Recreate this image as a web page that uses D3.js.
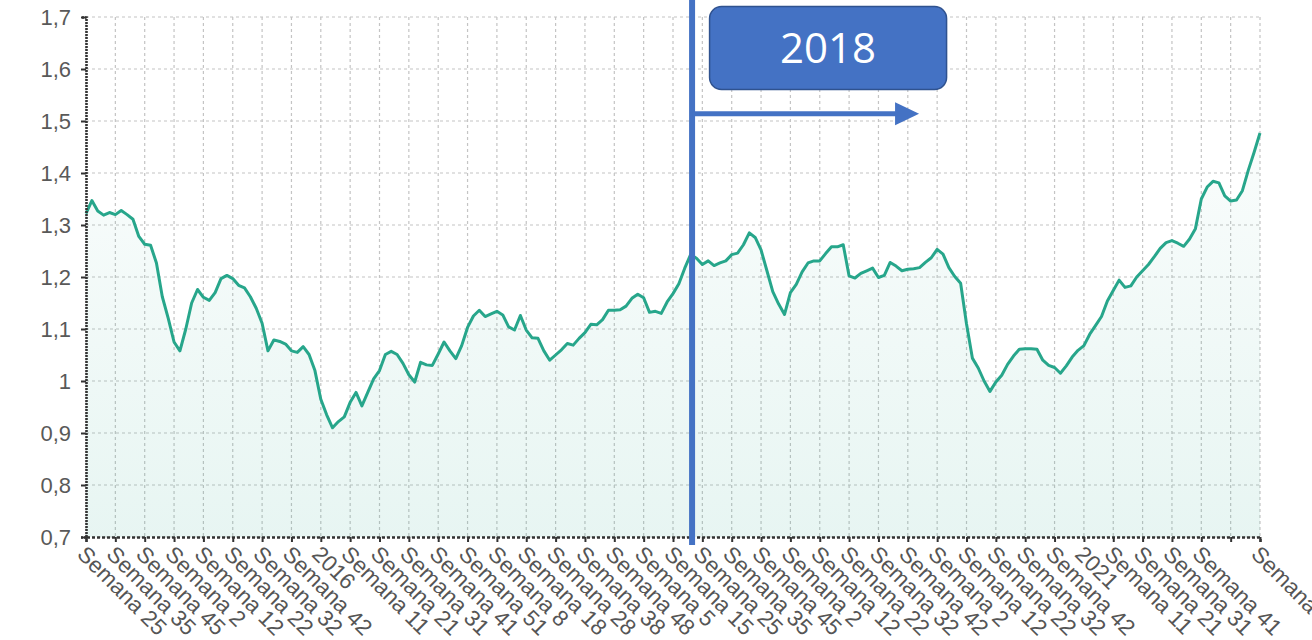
<!DOCTYPE html>
<html>
<head>
<meta charset="utf-8">
<script src="https://cdn.jsdelivr.net/npm/d3@7"></script>
<style>
	body { margin: 0; background: #fff; overflow: hidden; }
	svg { display: block; }
</style>
</head>
<body>
<svg id="chart" width="1312" height="640"></svg>
<script>
// one value every 2 weeks
var weekStep = 2;
var values = [
	1.322, 1.347, 1.327, 1.319, 1.324, 1.320, 1.328, 1.320, 1.311, 1.278,
	1.263, 1.261, 1.227, 1.162, 1.121, 1.075, 1.058, 1.100, 1.150, 1.176,
	1.161, 1.155, 1.170, 1.197, 1.203, 1.197, 1.184, 1.179, 1.162, 1.140,
	1.111, 1.058, 1.079, 1.076, 1.071, 1.058, 1.055, 1.066, 1.051, 1.020,
	0.965, 0.935, 0.910, 0.922, 0.931, 0.959, 0.978, 0.952, 0.978, 1.004,
	1.020, 1.051, 1.057, 1.051, 1.034, 1.012, 0.998, 1.036, 1.031, 1.030,
	1.052, 1.075, 1.058, 1.043, 1.068, 1.103, 1.125, 1.136, 1.124, 1.129,
	1.134, 1.127, 1.104, 1.098, 1.126, 1.098, 1.083, 1.082, 1.058, 1.040,
	1.050, 1.060, 1.072, 1.069, 1.082, 1.093, 1.109, 1.108, 1.118, 1.136,
	1.136, 1.137, 1.144, 1.159, 1.167, 1.160, 1.132, 1.134, 1.130, 1.152,
	1.168, 1.187, 1.217, 1.243, 1.236, 1.224, 1.231, 1.222, 1.227, 1.231,
	1.243, 1.246, 1.262, 1.285, 1.276, 1.252, 1.212, 1.172, 1.148, 1.128,
	1.170, 1.186, 1.210, 1.227, 1.231, 1.231, 1.245, 1.258, 1.258, 1.262,
	1.202, 1.198, 1.207, 1.212, 1.217, 1.199, 1.203, 1.228, 1.221, 1.212,
	1.215, 1.216, 1.218, 1.228, 1.237, 1.253, 1.244, 1.218, 1.201, 1.188,
	1.110, 1.044, 1.025, 1.000, 0.980, 0.998, 1.011, 1.032, 1.048, 1.061,
	1.062, 1.062, 1.061, 1.040, 1.030, 1.026, 1.015, 1.029, 1.046, 1.059,
	1.068, 1.090, 1.107, 1.124, 1.154, 1.174, 1.194, 1.180, 1.183, 1.200,
	1.212, 1.224, 1.239, 1.255, 1.266, 1.270, 1.265, 1.259, 1.273, 1.293,
	1.350, 1.373, 1.384, 1.381, 1.356, 1.346, 1.348, 1.366, 1.405, 1.440,
	1.477
];

// category labels shown on the x axis, one every 10 weeks ('' = skipped by the chart)
var tickStep = 10;
var tickLabels = [
	"Semana 25", "Semana 35", "Semana 45", "Semana 2", "Semana 12", "Semana 22", "Semana 32", "Semana 42",
	"2016", "Semana 11", "Semana 21", "Semana 31", "Semana 41", "Semana 51", "Semana 8", "Semana 18",
	"Semana 28", "Semana 38", "Semana 48", "Semana 5", "Semana 15", "Semana 25", "Semana 35", "Semana 45",
	"Semana 2", "Semana 12", "Semana 22", "Semana 32", "Semana 42", "Semana 2", "Semana 12", "Semana 22",
	"Semana 32", "Semana 42", "2021", "Semana 11", "Semana 21", "Semana 31", "Semana 41", "", "Semana 8"
];
var yTicks = [0.7, 0.8, 0.9, 1.0, 1.1, 1.2, 1.3, 1.4, 1.5, 1.6, 1.7];

// annotation drawn over the chart
var markerText = "2018";
var markerWeek = 206.5;

var svg = d3.select("svg#chart"),
	margin = { top: 17, right: 52, bottom: 103, left: 86 },
	width = svg.attr("width") - margin.left - margin.right,
	height = svg.attr("height") - margin.top - margin.bottom,
	g = svg.append("g").attr("transform", "translate(" + margin.left + "," + margin.top + ")");

var lineColor = "#27a68b";
var lastWeek = (values.length - 1) * weekStep;

var x = d3.scaleLinear().domain([0, lastWeek]).range([0, width]);
var y = d3.scaleLinear().domain([0.7, 1.7]).range([height, 0]);

var tickWeeks = tickLabels.map(function (d, i) { return i * tickStep; });
var comma = d3.formatLocale({ decimal: ",", thousands: ".", grouping: [3], currency: ["", ""] }).format(".1~f");

// gradient under the line
var grad = svg.append("defs").append("linearGradient")
	.attr("id", "fillGrad")
	.attr("gradientUnits", "userSpaceOnUse")
	.attr("x1", 0).attr("x2", 0)
	.attr("y1", 0).attr("y2", height);
grad.append("stop").attr("offset", "0%").attr("stop-color", lineColor).attr("stop-opacity", 0);
grad.append("stop").attr("offset", "100%").attr("stop-color", lineColor).attr("stop-opacity", 0.11);

// grid
g.append("g").selectAll("line.h")
	.data(yTicks).enter().append("line")
	.attr("x1", 0).attr("x2", width)
	.attr("y1", function (d) { return y(d); })
	.attr("y2", function (d) { return y(d); })
	.attr("stroke", "#c4c4c4").attr("stroke-width", 1.2).attr("stroke-dasharray", "3,3");

g.append("g").selectAll("line.v")
	.data(tickWeeks).enter().append("line")
	.attr("x1", function (d) { return x(d); })
	.attr("x2", function (d) { return x(d); })
	.attr("y1", 0).attr("y2", height)
	.attr("stroke", "#c4c4c4").attr("stroke-width", 1.2).attr("stroke-dasharray", "3,3");

var pts = values.map(function (v, i) { return { week: i * weekStep, value: v }; });

var area = d3.area()
	.x(function (d) { return x(d.week); })
	.y0(height)
	.y1(function (d) { return y(d.value); });

var valueline = d3.line()
	.x(function (d) { return x(d.week); })
	.y(function (d) { return y(d.value); });

g.append("path").datum(pts).attr("fill", "url(#fillGrad)").attr("d", area);
g.append("path").datum(pts)
	.attr("fill", "none")
	.attr("stroke", lineColor)
	.attr("stroke-width", 3)
	.attr("stroke-linejoin", "round")
	.attr("d", valueline);

// Y axis
var yAxis = g.append("g")
	.call(d3.axisLeft(y).tickValues(yTicks).tickSize(5).tickPadding(10).tickFormat(comma));
yAxis.select(".domain").attr("stroke", "#333").attr("stroke-width", 2.6).attr("stroke-dasharray", "2,1");
yAxis.selectAll(".tick line").attr("stroke", "#333").attr("stroke-width", 2);
yAxis.selectAll("text")
	.attr("font-family", "'Liberation Sans', Arial, sans-serif")
	.attr("font-size", "22px")
	.attr("fill", "#595959");

// X axis
var xAxis = g.append("g")
	.attr("transform", "translate(0," + height + ")")
	.call(d3.axisBottom(x).tickValues(tickWeeks).tickSize(5).tickFormat(function (d, i) { return tickLabels[i]; }));
xAxis.select(".domain").attr("stroke", "#333").attr("stroke-width", 2.4).attr("stroke-dasharray", "3,2");
xAxis.selectAll(".tick line").attr("stroke", "#333").attr("stroke-width", 2);
xAxis.selectAll("text")
	.attr("x", 0).attr("y", 0).attr("dy", "0.35em")
	.attr("transform", "translate(-5,13) rotate(45)")
	.attr("text-anchor", "start")
	.attr("font-family", "'Liberation Sans', Arial, sans-serif")
	.attr("font-size", "22.5px")
	.attr("fill", "#555");

// 2018 marker
var mx = margin.left + x(markerWeek);
var blue = "#4472c4";
svg.append("line")
	.attr("x1", mx).attr("x2", mx)
	.attr("y1", 0).attr("y2", margin.top + height + 8)
	.attr("stroke", blue).attr("stroke-width", 6);

var ay = margin.top + y(1.514);
svg.append("line")
	.attr("x1", mx).attr("x2", mx + 205)
	.attr("y1", ay).attr("y2", ay)
	.attr("stroke", blue).attr("stroke-width", 5);
svg.append("path")
	.attr("d", "M" + (mx + 203) + "," + (ay - 11.5) + "L" + (mx + 227) + "," + ay + "L" + (mx + 203) + "," + (ay + 11.5) + "Z")
	.attr("fill", blue);

svg.append("rect")
	.attr("x", mx + 17.5).attr("y", 6.5)
	.attr("width", 237).attr("height", 83)
	.attr("rx", 12).attr("ry", 12)
	.attr("fill", blue)
	.attr("stroke", "#2f528f").attr("stroke-width", 1.5);
svg.append("text")
	.attr("x", mx + 136).attr("y", 63)
	.attr("text-anchor", "middle")
	.attr("font-family", "'Open Sans', 'Noto Sans', sans-serif")
	.attr("font-size", "42px")
	.attr("fill", "#fff")
	.text(markerText);
</script>
</body>
</html>
